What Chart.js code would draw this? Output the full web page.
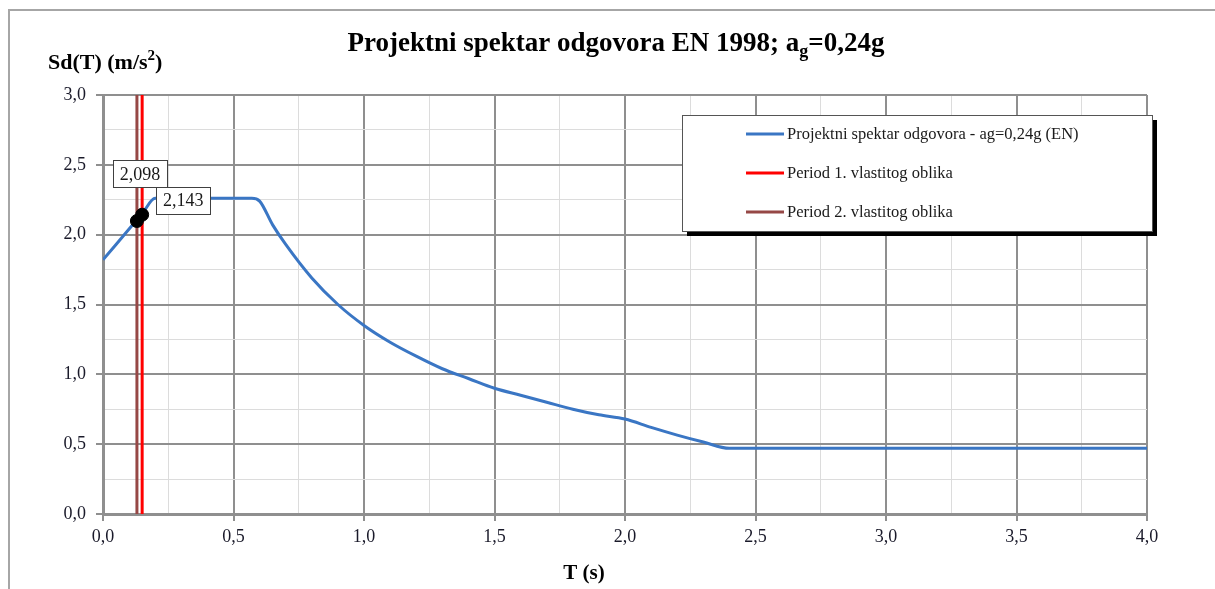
<!DOCTYPE html>
<html>
<head>
<meta charset="utf-8">
<script src="https://cdn.jsdelivr.net/npm/chart.js@4.4.1/dist/chart.umd.min.js"></script>
<style>
  html, body { margin: 0; padding: 0; background: #fff; }
  #wrap { width: 1215px; height: 589px; }
</style>
</head>
<body>
<div id="wrap"><canvas id="chart" width="1215" height="589"></canvas></div>
<script>
// spectrum
const specT  = [0, 0.05, 0.1, 0.15, 0.2, 0.3, 0.4, 0.5, 0.57, 0.6, 0.65, 0.7, 0.8, 0.9, 1.0, 1.1, 1.2, 1.3, 1.4, 1.5, 1.6, 1.7, 1.8, 1.9, 2.0, 2.1, 2.2, 2.3, 2.4, 2.5, 3.0, 3.5, 4.0];
const specSd = [1.82, 1.93, 2.04, 2.15, 2.26, 2.26, 2.26, 2.26, 2.26, 2.24, 2.07, 1.93, 1.69, 1.50, 1.35, 1.23, 1.13, 1.04, 0.97, 0.90, 0.85, 0.80, 0.75, 0.71, 0.68, 0.62, 0.565, 0.515, 0.47, 0.47, 0.47, 0.47, 0.47];

// periods of the two mode shapes and their spectral values
const period1 = 0.15, period1Sd = 2.143;
const period2 = 0.13, period2Sd = 2.098;

const legendLabels = [
  'Projektni spektar odgovora - ag=0,24g (EN)',
  'Period 1. vlastitog oblika',
  'Period 2. vlastitog oblika'
];
const yMin = 0, yMax = 3.0, xMin = 0, xMax = 4.0;

const serif = '"Liberation Serif", "DejaVu Serif", serif';
const blue = 'rgb(58,118,196)';
const red = 'rgb(255,0,0)';
const brown = 'rgb(150,72,70)';
const majorGrid = '#8f8f8f';
const minorGrid = '#dcdcdc';

const isMajor = v => Math.abs(v * 2 - Math.round(v * 2)) < 1e-6;
const fmt = v => v.toFixed(1).replace('.', ',');
const fmt3 = v => v.toFixed(3).replace('.', ',');

const frameAndText = {
  id: 'frameAndText',
  beforeDraw(chart) {
    const c = chart.ctx;
    c.save();
    c.fillStyle = '#fff';
    c.fillRect(0, 0, chart.width, chart.height);
    c.strokeStyle = '#a6a6a6';
    c.lineWidth = 2;
    c.beginPath();
    c.moveTo(1215, 10);
    c.lineTo(9, 10);
    c.lineTo(9, 589);
    c.stroke();
    c.restore();
  },
  afterDraw(chart) {
    const c = chart.ctx;
    c.save();
    c.fillStyle = '#000';
    c.textBaseline = 'alphabetic';
    c.textAlign = 'left';

    // title with subscript g
    const big = 'bold 27px ' + serif, small = 'bold 18px ' + serif;
    const p1 = 'Projektni spektar odgovora EN 1998; a', p2 = 'g', p3 = '=0,24g';
    c.font = big; const w1 = c.measureText(p1).width, w3 = c.measureText(p3).width;
    c.font = small; const w2 = c.measureText(p2).width;
    let x = 616 - (w1 + w2 + w3) / 2;
    const by = 51;
    c.font = big; c.fillText(p1, x, by); x += w1;
    c.font = small; c.fillText(p2, x, by + 6); x += w2;
    c.font = big; c.fillText(p3, x, by);

    // y axis title with superscript 2
    const yb = 'bold 22px ' + serif, ys = 'bold 15px ' + serif;
    x = 48;
    c.font = yb; c.fillText('Sd(T) (m/s', x, 69); x += c.measureText('Sd(T) (m/s').width;
    c.font = ys; c.fillText('2', x, 60); x += c.measureText('2').width;
    c.font = yb; c.fillText(')', x, 69);

    // x axis title
    c.font = 'bold 21px ' + serif;
    c.textAlign = 'center';
    c.fillText('T (s)', 584, 579);

    // value labels next to the two points
    const meta = chart.getDatasetMeta(3);
    const offs = [[3, -47], [41, -14]];
    c.font = '18px ' + serif;
    meta.data.forEach((pt, i) => {
      const txt = fmt3(chart.data.datasets[3].data[i].y);
      const w = Math.round(c.measureText(txt).width + 13), h = 27;
      const cx = pt.x + offs[i][0], cy = pt.y + offs[i][1];
      const bx = Math.round(cx - w / 2), byy = Math.round(cy - h / 2);
      c.fillStyle = '#fff';
      c.fillRect(bx, byy, w, h);
      c.strokeStyle = '#404040';
      c.lineWidth = 1;
      c.strokeRect(bx + 0.5, byy + 0.5, w, h);
      c.fillStyle = '#1a1a1a';
      c.textAlign = 'center';
      c.textBaseline = 'middle';
      c.fillText(txt, cx, cy + 1);
    });

    // legend box with shadow
    const lx = 682, ly = 115, lw = 470, lh = 116;
    c.fillStyle = '#000';
    c.fillRect(lx + 5, ly + 5, lw, lh);
    c.fillStyle = '#fff';
    c.fillRect(lx, ly, lw, lh);
    c.strokeStyle = '#555';
    c.lineWidth = 1;
    c.strokeRect(lx + 0.5, ly + 0.5, lw, lh);
    const cols = [blue, red, brown];
    const rows = [134, 173, 212];
    c.font = '16.5px ' + serif;
    c.textAlign = 'left';
    c.textBaseline = 'middle';
    legendLabels.forEach((lab, i) => {
      c.strokeStyle = cols[i];
      c.lineWidth = 3;
      c.beginPath();
      c.moveTo(746, rows[i]);
      c.lineTo(784, rows[i]);
      c.stroke();
      c.fillStyle = '#1a1a1a';
      c.fillText(lab, 787, rows[i] + 1);
    });
    c.restore();
  }
};

function gridOpts() {
  return {
    color: ctx => isMajor(ctx.tick.value) ? majorGrid : minorGrid,
    lineWidth: ctx => isMajor(ctx.tick.value) ? 2 : 1,
    tickColor: ctx => isMajor(ctx.tick.value) ? majorGrid : 'rgba(0,0,0,0)',
    tickWidth: 2,
    tickLength: 7,
    drawTicks: true
  };
}

new Chart(document.getElementById('chart'), {
  type: 'scatter',
  data: {
    datasets: [
      {
        label: legendLabels[0],
        data: specT.map((t, i) => ({ x: t, y: specSd[i] })),
        showLine: true,
        borderColor: blue,
        borderWidth: 3,
        pointRadius: 0,
        cubicInterpolationMode: 'monotone',
        order: 3
      },
      {
        label: legendLabels[1],
        data: [{ x: period1, y: yMin }, { x: period1, y: yMax }],
        showLine: true,
        borderColor: red,
        borderWidth: 3,
        pointRadius: 0,
        order: 2
      },
      {
        label: legendLabels[2],
        data: [{ x: period2, y: yMin }, { x: period2, y: yMax }],
        showLine: true,
        borderColor: brown,
        borderWidth: 3,
        pointRadius: 0,
        order: 2
      },
      {
        label: 'points',
        data: [{ x: period2, y: period2Sd }, { x: period1, y: period1Sd }],
        pointRadius: 6.5,
        pointBackgroundColor: '#000',
        pointBorderColor: '#000',
        order: 1
      }
    ]
  },
  options: {
    responsive: false,
    animation: false,
    layout: { padding: { left: 0, right: 68, top: 95, bottom: 0 } },
    plugins: { legend: { display: false }, title: { display: false }, tooltip: { enabled: false } },
    scales: {
      x: {
        type: 'linear',
        min: xMin, max: xMax,
        ticks: {
          stepSize: 0.25,
          autoSkip: false,
          maxRotation: 0,
          padding: 5,
          color: '#1a1a2a',
          font: { family: serif, size: 18 },
          callback: v => isMajor(v) ? fmt(v) : ''
        },
        grid: gridOpts(),
        border: { color: majorGrid, width: 3 },
        afterFit: s => { s.height = 75; }
      },
      y: {
        type: 'linear',
        min: yMin, max: yMax,
        ticks: {
          stepSize: 0.25,
          autoSkip: false,
          padding: 10,
          color: '#1a1a2a',
          font: { family: serif, size: 18 },
          callback: v => isMajor(v) ? fmt(v) : ''
        },
        grid: gridOpts(),
        border: { color: majorGrid, width: 3 },
        afterFit: s => { s.width = 103; }
      }
    }
  },
  plugins: [frameAndText]
});
</script>
</body>
</html>
